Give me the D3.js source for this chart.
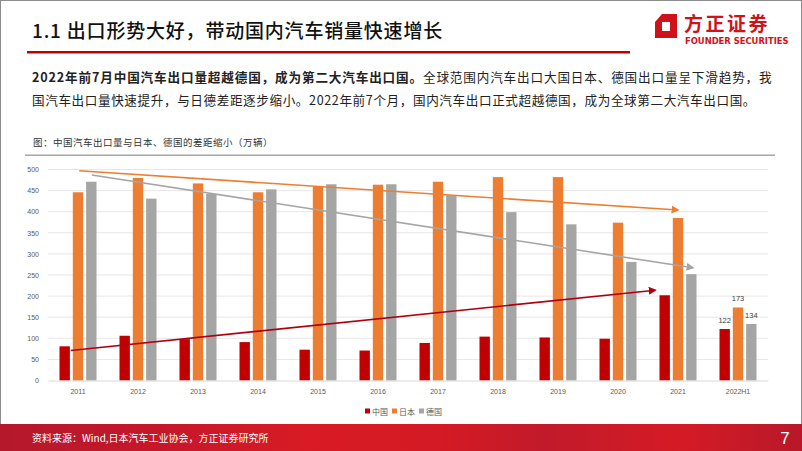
<!DOCTYPE html>
<html>
  <head>
    <meta charset="utf-8" />
    <title>中国汽车出口量与日本、德国的差距缩小</title>
    <style>
      html,
      body {
        margin: 0;
        padding: 0;
        background-color: white;
      }
      svg {
        display: block;
        font-family: "Noto Sans CJK SC", "Noto Sans", sans-serif;
      }
      .tick text {
        fill: #595959;
        font-size: 7px;
        font-family: "Liberation Sans", "Noto Sans", sans-serif;
      }
    </style>
  </head>
  <body>
    <script src="https://cdn.jsdelivr.net/npm/d3@7"></script>
    <script>
      var w = 802;
      var h = 451;

      // data (万辆)
      var years = ["2011", "2012", "2013", "2014", "2015", "2016", "2017", "2018", "2019", "2020", "2021", "2022H1"];
      var china = [81, 106, 98, 91, 73, 71, 89, 104, 102, 99, 202, 122];
      var japan = [446, 480, 467, 446, 459, 464, 471, 482, 482, 374, 385, 173];
      var germany = [471, 431, 442, 453, 465, 465, 439, 399, 370, 281, 252, 134];
      var seriesNames = ["中国", "日本", "德国"];
      var seriesColors = ["#c00000", "#ed7d31", "#a5a5a5"];
      var yTicks = [0, 50, 100, 150, 200, 250, 300, 350, 400, 450, 500];
      var labelled = ["2022H1"];

      // trend arrows: [category index, value] start and end
      var trendChina = [[-0.12, 71], [9.62, 214]];
      var trendJapan = [[0.02, 497], [10.0, 404]];
      var trendGermany = [[0.23, 487], [10.25, 267]];

      var svg = d3.select("body")
        .append("svg")
        .attr("width", w)
        .attr("height", h);

      var defs = svg.append("defs");

      // slide frame
      svg.append("rect")
        .attr("x", 0.5).attr("y", 0.5)
        .attr("width", w - 1).attr("height", h - 1)
        .attr("fill", "white")
        .attr("stroke", "#8c8c8c")
        .attr("stroke-width", 1);

      // title
      svg.append("text")
        .attr("x", 32).attr("y", 38)
        .attr("font-size", 19)
        .attr("font-weight", 500)
        .attr("fill", "#111")
        .attr("letter-spacing", 0.8)
        .text("1.1  出口形势大好，带动国内汽车销量快速增长");

      svg.append("rect")
        .attr("x", 27).attr("y", 51)
        .attr("width", 603).attr("height", 2.5)
        .attr("fill", "#c00000");

      // logo
      var logo = svg.append("g").attr("transform", "translate(655, 14)");
      logo.append("path")
        .attr("d", "M7,0 L22,0 L22,24 L0,24 L0,8 Z M7,8 L7,17 L15,17 L15,8 Z")
        .attr("fill", "#d0121b")
        .attr("fill-rule", "evenodd");
      logo.append("text")
        .attr("x", 29).attr("y", 17)
        .attr("font-size", 19)
        .attr("font-weight", 700)
        .attr("fill", "#d0121b")
        .attr("letter-spacing", 2.5)
        .text("方正证券");
      logo.append("text")
        .attr("x", 30).attr("y", 30)
        .attr("font-size", 8.4)
        .attr("font-weight", 700)
        .attr("font-family", "DejaVu Sans, sans-serif")
        .attr("fill", "#d0121b")
        .text("FOUNDER SECURITIES");

      // paragraph
      var p1 = svg.append("text")
        .attr("x", 32).attr("y", 82)
        .attr("font-size", 12.6)
        .attr("letter-spacing", 0.85)
        .attr("fill", "#222");
      p1.append("tspan")
        .attr("font-weight", 700)
        .text("2022年前7月中国汽车出口量超越德国，成为第二大汽车出口国。");
      p1.append("tspan")
        .text("全球范围内汽车出口大国日本、德国出口量呈下滑趋势，我");

      svg.append("text")
        .attr("x", 32).attr("y", 105)
        .attr("font-size", 12.6)
        .attr("letter-spacing", 0.6)
        .attr("fill", "#222")
        .text("国汽车出口量快速提升，与日德差距逐步缩小。2022年前7个月，国内汽车出口正式超越德国，成为全球第二大汽车出口国。");

      // chart caption
      svg.append("text")
        .attr("x", 33).attr("y", 146)
        .attr("font-size", 9.5)
        .attr("fill", "#333")
        .attr("letter-spacing", 0.5)
        .text("图：中国汽车出口量与日本、德国的差距缩小（万辆）");

      svg.append("rect")
        .attr("x", 25).attr("y", 154.5)
        .attr("width", 750).attr("height", 1.5)
        .attr("fill", "#a6a6a6");

      // scales
      var x = d3.scaleBand()
        .domain(years)
        .range([48, 768]);

      var xIdx = d3.scaleLinear()
        .domain([0, years.length - 1])
        .range([x(years[0]) + x.bandwidth() / 2, x(years[years.length - 1]) + x.bandwidth() / 2]);

      var xInner = d3.scaleBand()
        .domain(seriesNames)
        .range([-18.5, 18.5])
        .paddingInner(0.22);

      var y = d3.scaleLinear()
        .domain([0, 500])
        .range([380.5, 169.5]);

      // gridlines
      svg.append("g")
        .selectAll("line")
        .data(yTicks.slice(1))
        .enter()
        .append("line")
        .attr("x1", 48).attr("x2", 768)
        .attr("y1", function(d) { return y(d); })
        .attr("y2", function(d) { return y(d); })
        .attr("stroke", "#e6e6e6")
        .attr("stroke-width", 1);

      // y axis
      var yAxis = d3.axisLeft(y)
        .tickValues(yTicks)
        .tickSize(0)
        .tickPadding(9);

      svg.append("g")
        .attr("transform", "translate(48, 0)")
        .call(yAxis)
        .select(".domain").remove();

      // bars
      var table = years.map(function(yr, i) {
        return { year: yr, values: [china[i], japan[i], germany[i]] };
      });

      var groups = svg.append("g")
        .selectAll(".grp")
        .data(table)
        .enter()
        .append("g")
        .attr("class", "grp")
        .attr("transform", function(d) { return "translate(" + (x(d.year) + x.bandwidth() / 2) + ",0)"; });

      groups.selectAll("rect")
        .data(function(d) { return d.values.map(function(v, k) { return { k: k, v: v, year: d.year }; }); })
        .enter()
        .append("rect")
        .attr("x", function(d) { return xInner(seriesNames[d.k]); })
        .attr("width", xInner.bandwidth())
        .attr("y", function(d) { return y(d.v); })
        .attr("height", function(d) { return y(0) - y(d.v); })
        .attr("fill", function(d) { return seriesColors[d.k]; });

      groups.selectAll(".lbl")
        .data(function(d) {
          if (labelled.indexOf(d.year) < 0) return [];
          return d.values.map(function(v, k) { return { k: k, v: v }; });
        })
        .enter()
        .append("text")
        .attr("class", "lbl")
        .attr("x", function(d) { return xInner(seriesNames[d.k]) + xInner.bandwidth() / 2; })
        .attr("y", function(d) { return y(d.v) - 6; })
        .attr("text-anchor", "middle")
        .attr("font-size", 7.5)
        .attr("font-family", "Liberation Sans, sans-serif")
        .attr("fill", "#404040")
        .text(function(d) { return d.v; });

      // x axis labels
      var xAxis = d3.axisBottom(x).tickSize(0).tickPadding(9);
      svg.append("g")
        .attr("transform", "translate(0," + y(0) + ")")
        .call(xAxis)
        .select(".domain")
        .attr("stroke", "#d9d9d9");

      // trend arrows
      var trends = [
        { pts: trendChina, color: "#b00010", id: "arC" },
        { pts: trendJapan, color: "#ed7d31", id: "arJ" },
        { pts: trendGermany, color: "#a5a5a5", id: "arG" }
      ];

      trends.forEach(function(t) {
        defs.append("marker")
          .attr("id", t.id)
          .attr("viewBox", "0 0 10 10")
          .attr("refX", 8).attr("refY", 5)
          .attr("markerWidth", 5).attr("markerHeight", 5)
          .attr("markerUnits", "strokeWidth")
          .attr("orient", "auto")
          .append("path")
          .attr("d", "M0,0 L10,5 L0,10 Z")
          .attr("fill", t.color);
      });

      var line = d3.line()
        .x(function(d) { return xIdx(d[0]); })
        .y(function(d) { return y(d[1]); });

      svg.append("g")
        .selectAll("path")
        .data(trends)
        .enter()
        .append("path")
        .attr("d", function(d) { return line(d.pts); })
        .attr("fill", "none")
        .attr("stroke", function(d) { return d.color; })
        .attr("stroke-width", 1.6)
        .attr("marker-end", function(d) { return "url(#" + d.id + ")"; });

      // legend
      var legend = svg.append("g")
        .attr("transform", "translate(365, 408)");
      var legItems = legend.selectAll("g")
        .data(seriesNames)
        .enter()
        .append("g")
        .attr("transform", function(d, i) { return "translate(" + (i * 27) + ",0)"; });
      legItems.append("rect")
        .attr("x", 0).attr("y", 0.5)
        .attr("width", 5).attr("height", 5)
        .attr("fill", function(d, i) { return seriesColors[i]; });
      legItems.append("text")
        .attr("x", 7).attr("y", 6.5)
        .attr("font-size", 8)
        .attr("fill", "#595959")
        .text(function(d) { return d; });

      // footer band
      var grad = defs.append("linearGradient")
        .attr("id", "foot")
        .attr("x1", "0%").attr("x2", "100%");
      [["0%", "#b5182b"], ["22%", "#c8172a"], ["38%", "#d81b24"], ["55%", "#d41a24"], ["68%", "#c21a2b"], ["85%", "#d41b25"], ["100%", "#b8182a"]]
        .forEach(function(s) {
          grad.append("stop").attr("offset", s[0]).attr("stop-color", s[1]);
        });

      svg.append("rect")
        .attr("x", 0).attr("y", 424)
        .attr("width", w).attr("height", h - 424)
        .attr("fill", "url(#foot)");

      svg.append("text")
        .attr("x", 32).attr("y", 442)
        .attr("font-size", 10)
        .attr("fill", "white")
        .text("资料来源：Wind,日本汽车工业协会，方正证券研究所");

      svg.append("text")
        .attr("x", 785).attr("y", 444)
        .attr("font-size", 17)
        .attr("font-family", "Liberation Sans, sans-serif")
        .attr("text-anchor", "middle")
        .attr("fill", "white")
        .text("7");
    </script>
  </body>
</html>
